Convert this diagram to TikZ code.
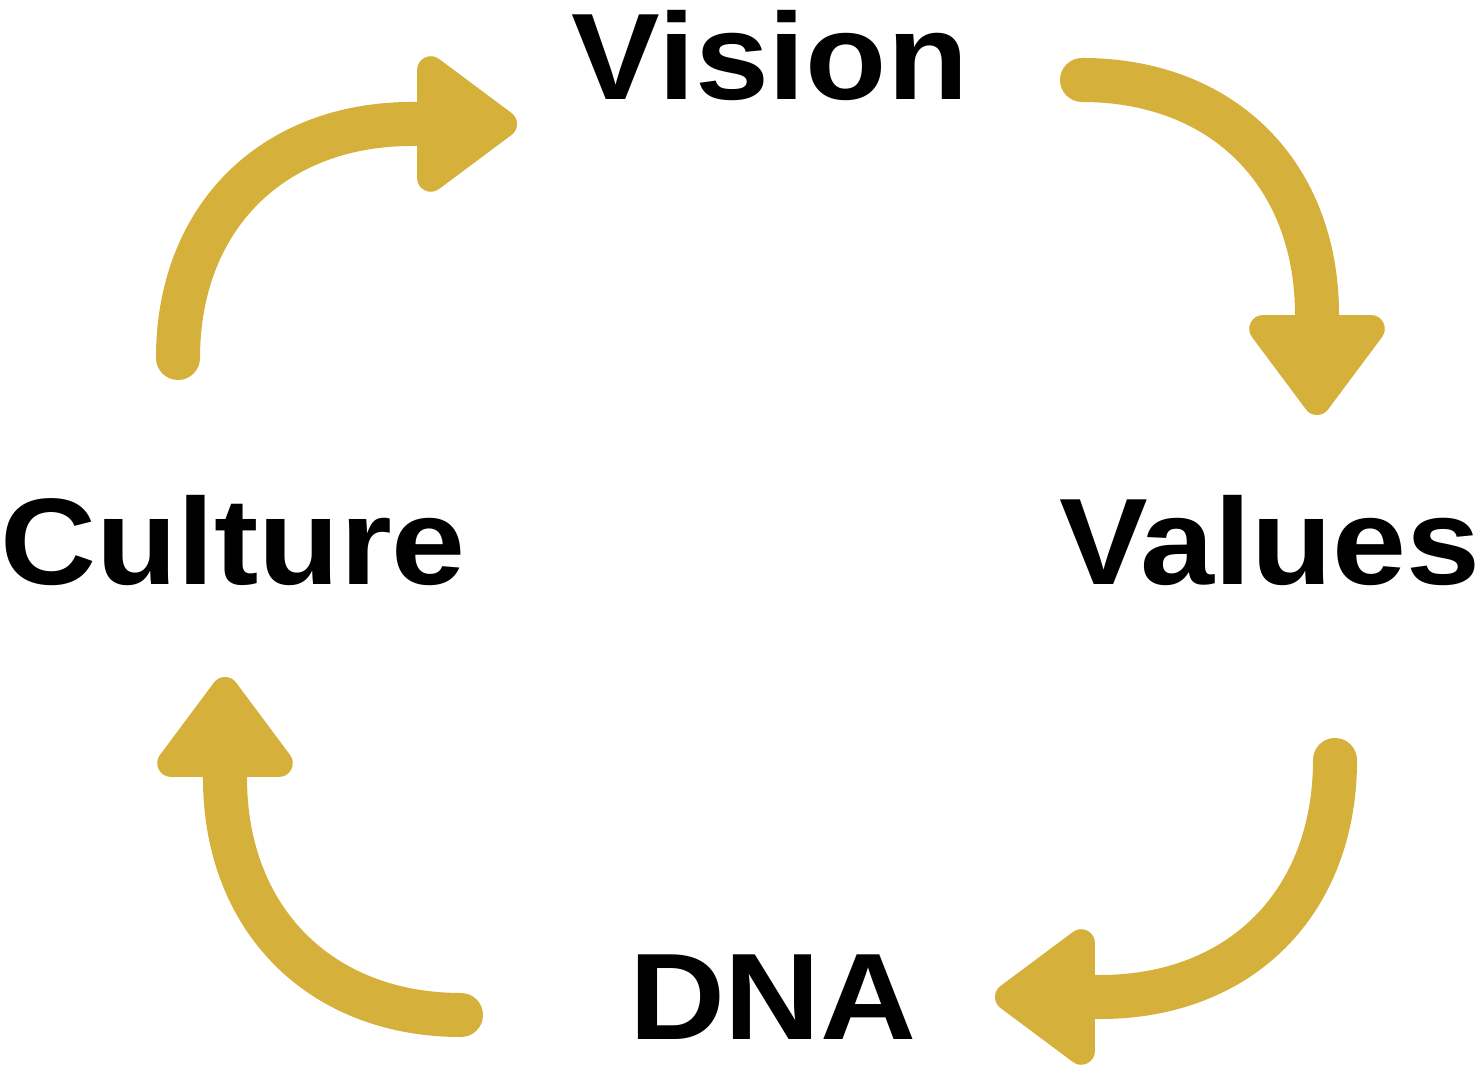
\documentclass[tikz,border=0pt]{standalone}
\usepackage{fontspec}
\usepackage{xcolor}
\usepackage{tikz}
\usetikzlibrary{arrows.meta}
\newfontfamily\lblfont{Liberation Sans}[FakeStretch=1.08]
\definecolor{gold}{RGB}{213,176,58}
\begin{document}
\begin{tikzpicture}[x=0.01cm,y=-0.01cm]
\tikzset{lbl/.style={anchor=base,inner sep=0pt,font=\lblfont\bfseries\fontsize{35pt}{35pt}\selectfont},
 loop arrow/.style={gold,line width=0.44cm,line cap=round,-{Triangle[length=1.1cm,width=1.55cm,round]}}}
\useasboundingbox (0,0) rectangle (1476,1068);
\foreach \name/\x/\y/\txt in {vision/770/100/Vision,values/1270/585/Values,dna/773/1040/DNA,culture/233/585/Culture}{
\node[lbl] (\name) at (\x,\y) {\txt};
}
%tails and tips
\coordinate (cul-out) at (178,358);  \coordinate (vis-in) at (517,124);
\coordinate (vis-out) at (1082,80);  \coordinate (val-in) at (1317,415);
\coordinate (val-out) at (1335,760); \coordinate (dna-in) at (995,997);
\coordinate (dna-out) at (461,1015); \coordinate (cul-in) at (225,677);
\draw[loop arrow] (cul-out) .. controls (178,218) and (272,124) .. (412,124) -- (vis-in);
\draw[loop arrow] (vis-out) .. controls (1223,80) and (1317,174) .. (1317,315) -- (val-in);
\draw[loop arrow] (val-out) .. controls (1335,902) and (1241,997) .. (1100,997) -- (dna-in);
\draw[loop arrow] (dna-out) .. controls (320,1015) and (225,919) .. (225,778) -- (cul-in);
\end{tikzpicture}
\end{document}
